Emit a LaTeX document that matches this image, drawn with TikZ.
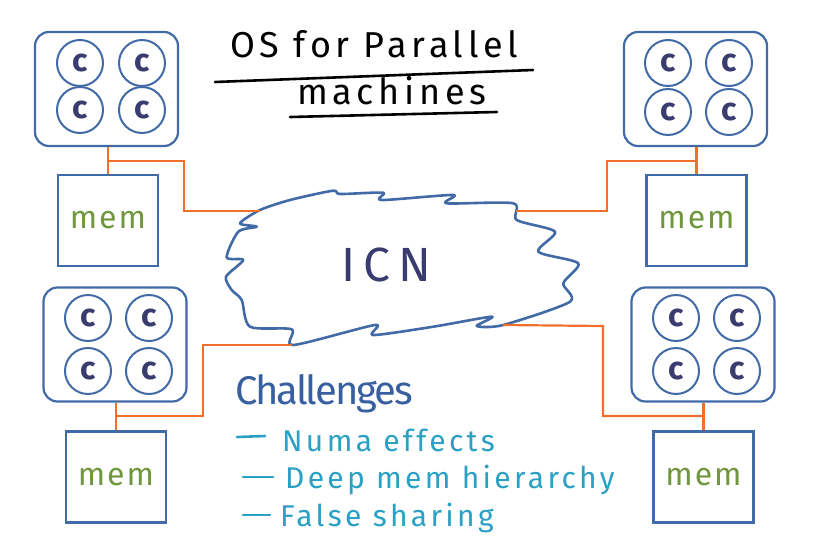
\documentclass[tikz,border=0pt]{standalone}
\usepackage{fontspec}
\setmainfont{Fira Sans}
\newfontfamily\handtitle[LetterSpace=13]{Fira Sans}
\newfontfamily\handitem[LetterSpace=11]{Fira Sans}
\newfontfamily\handch[LetterSpace=-5]{Fira Sans}
\newfontfamily\handmem[LetterSpace=6]{Fira Sans}
\definecolor{boxblue}{RGB}{66,106,166}
\definecolor{navy}{RGB}{58,60,112}
\definecolor{memgreen}{RGB}{112,150,62}
\definecolor{wireorange}{RGB}{240,112,42}
\definecolor{teal}{RGB}{42,160,196}
\definecolor{chblue}{RGB}{56,96,160}
\begin{document}
\begin{tikzpicture}[x=1pt,y=-1pt,
  box/.style={draw=boxblue, line width=2.2pt},
  proc/.style={box, rounded corners=14pt, minimum width=143pt, minimum height=114pt, inner sep=0pt},
  core/.style={circle, draw=boxblue, line width=2pt, minimum size=46pt, inner sep=0pt,
    font=\fontsize{32}{32}\selectfont\bfseries, text=navy},
  memb/.style={box, minimum width=100pt, minimum height=91pt, inner sep=0pt,
    font=\handmem\fontsize{32}{32}\selectfont, text=memgreen},
  wire/.style={draw=wireorange, line width=2.2pt},
  title/.style={font=\handtitle\fontsize{36}{36}\selectfont, text=black, anchor=base west, inner sep=0pt},
  item/.style={font=\handitem\fontsize{30}{30}\selectfont, text=teal, anchor=base west, inner sep=0pt},
  dashline/.style={draw=teal, line width=2.6pt, line cap=round}]
\useasboundingbox (0,0) rectangle (833,541);

% processor clusters
\node[proc] (p1) at (106.5,89) {};
\node[core] (p1a) at (80,63) {c};
\node[core] (p1b) at (142,63) {c};
\node[core] (p1c) at (80,110) {c};
\node[core] (p1d) at (142,110) {c};
\node[memb] (m1) at (108,220.5) {mem};

\node[proc] (p2) at (695.5,89) {};
\node[core] (p2a) at (668,63) {c};
\node[core] (p2b) at (729,63) {c};
\node[core] (p2c) at (668,112) {c};
\node[core] (p2d) at (729,112) {c};
\node[memb] (m2) at (696.5,220.5) {mem};

\node[proc] (p3) at (115,344.5) {};
\node[core] (p3a) at (88,318) {c};
\node[core] (p3b) at (149,318) {c};
\node[core] (p3c) at (88,371) {c};
\node[core] (p3d) at (149,371) {c};
\node[memb] (m3) at (116,477) {mem};

\node[proc] (p4) at (703,344.5) {};
\node[core] (p4a) at (676,318) {c};
\node[core] (p4b) at (737,318) {c};
\node[core] (p4c) at (676,371) {c};
\node[core] (p4d) at (737,371) {c};
\node[memb] (m4) at (703.5,477) {mem};

% interconnect cloud
\draw[draw=boxblue, line width=2.6pt, line join=round]
  plot[smooth cycle, tension=0.45] coordinates {
  (290,200) (333,190.7) (340,194) (383,192.7) (381.7,200) (453,195) (446.7,203.3)
  (513.3,203.3) (516.7,220) (555,231.7) (538.3,251.7) (578.3,263.3) (563.3,283.3)
  (570,301.7) (503.3,325) (476.7,326) (491.7,316.7) (433.3,326.7) (373.3,335)
  (375,325) (293.3,345) (291.7,329.3) (250,326.7) (241.7,300) (231.7,290)
  (226,276.7) (243.3,260) (226.7,257.3) (238.3,231.7) (256.7,226.7) (240,223.3)
  (260,210)};
\node[font=\fontsize{48}{48}\selectfont, text=navy] (icn) at (386,265) {I\,C\,N};
\coordinate (c1) at (260,211);
\coordinate (c2) at (516,211);
\coordinate (c3) at (292,345);
\coordinate (c4) at (503,325);

% wires
\coordinate (j1) at (m1.north |- 0,161);
\coordinate (j2) at (m2.north |- 0,161);
\coordinate (j3) at (m3.north |- 0,416);
\coordinate (j4) at (m4.north |- 0,416);
\draw[wire] (m1.north) -- (m1.north |- p1.south);
\draw[wire] (j1) -| (184,211) -- (c1);
\draw[wire] (m2.north) -- (m2.north |- p2.south);
\draw[wire] (j2) -| (607,211) -- (c2);
\draw[wire] (m3.north) -- (m3.north |- p3.south);
\draw[wire] (j3) -| (203,345) -- (c3);
\draw[wire] (m4.north) -- (m4.north |- p4.south);
\draw[wire] (j4) -| (603,326) -- (c4);

% title
\node[title] (t1) at (230,57) {OS for Parallel};
\node[title] (t2) at (297,104) {machines};
\draw[line width=2.6pt, line cap=round] (215,82) -- (533,70);
\draw[line width=2.6pt, line cap=round] (290,117) -- (497,112);

% challenges
\node[font=\handch\fontsize{40}{40}\selectfont, text=chblue, anchor=base west, inner sep=0pt] (ch) at (235,404) {Challenges};
\coordinate (d1a) at (237,437); \coordinate (d1b) at (265,436);
\coordinate (d2a) at (243,477); \coordinate (d2b) at (273,477);
\coordinate (d3a) at (243,515); \coordinate (d3b) at (270,515);
\draw[dashline] (d1a) -- (d1b);
\draw[dashline] (d2a) -- (d2b);
\draw[dashline] (d3a) -- (d3b);
\node[item] (i1) at (282,451) {Numa effects};
\node[item] (i2) at (285,488) {Deep mem hierarchy};
\node[item] (i3) at (280,526) {False sharing};
\end{tikzpicture}
\end{document}
